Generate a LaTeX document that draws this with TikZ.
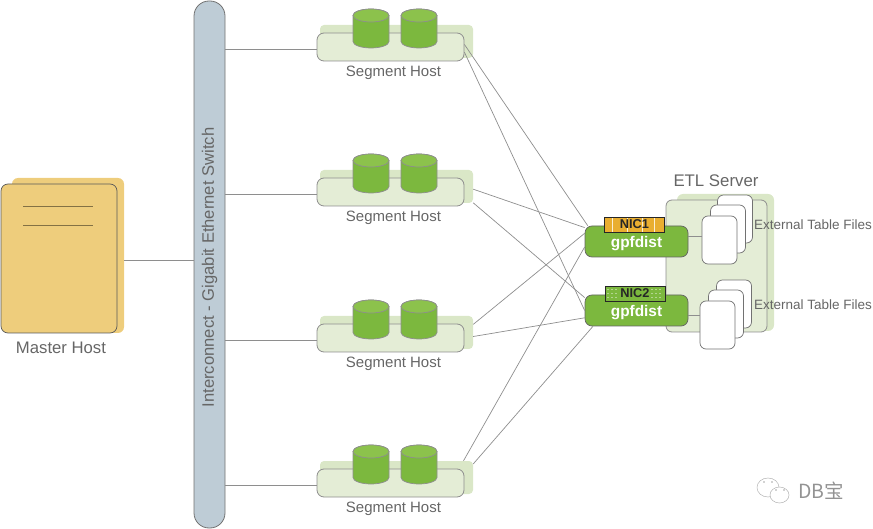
\documentclass[tikz,border=0pt]{standalone}
\usepackage{fontspec}
\setmainfont{Liberation Sans}
\newfontfamily\cjkfont{Noto Sans CJK SC}
\usetikzlibrary{shapes.geometric,positioning}
\definecolor{linegray}{HTML}{8E8E8E}
\definecolor{textgray}{HTML}{666666}
\definecolor{hostgreen}{HTML}{E4EDD6}
\definecolor{shadegreen}{HTML}{DAE7C7}
\definecolor{diskgreen}{HTML}{7CB83E}
\definecolor{disktop}{HTML}{8CC24C}
\definecolor{mastertan}{HTML}{EECD7C}
\definecolor{switchblue}{HTML}{BECCD6}
\definecolor{nicorange}{HTML}{E9AE30}
\tikzset{
    link/.style={draw=linegray, line width=0.7pt},
    hostback/.style={fill=shadegreen, rounded corners=4pt, minimum width=153, minimum height=33},
    hostfront/.style={fill=hostgreen, draw=linegray, line width=0.8pt, rounded corners=7pt, minimum width=147, minimum height=28},
    diskshape/.pic={
        \draw[draw=linegray, line width=0.7pt, fill=diskgreen] (-18,-13) -- (-18,13) arc[start angle=180, end angle=360, x radius=18pt, y radius=6.5pt] -- (18,-13) arc[start angle=0, end angle=180, x radius=18pt, y radius=6.5pt] -- cycle;
        \draw[draw=linegray, line width=0.7pt, fill=disktop] (0,-13) ellipse[x radius=18pt, y radius=6.5pt];
    },
    caption/.style={text=textgray, font=\fontsize{15}{17}\selectfont, inner sep=0pt},
    sheet/.style={fill=white, draw=linegray!80!black, line width=0.7pt, rounded corners=6pt, minimum width=35, minimum height=48},
    gpf/.style={fill=diskgreen, draw=linegray!70!black, line width=0.7pt, rounded corners=7pt, minimum width=103, minimum height=31, text=white, font=\bfseries\fontsize{15.4}{17}\selectfont},
    nic/.style={draw=black!85, line width=0.9pt, minimum width=60, minimum height=15, inner sep=0pt, font=\bfseries\fontsize{12.8}{14}\selectfont, text=black!85}
}
\begin{document}
\begin{tikzpicture}[x=1pt,y=-1pt]
    \useasboundingbox (0,0) rectangle (873,529);

    % Interconnect
    \node[draw=linegray!80!black, fill=switchblue, line width=0.8pt, rotate=90, rounded corners=15pt, minimum width=527, minimum height=31, inner sep=0pt, text=textgray, font=\fontsize{16.6}{18}\selectfont] (switch) at (209.5,264.5) {Interconnect - Gigabit Ethernet Switch\hspace*{6pt}};

    % Master
    \node[fill=mastertan, rounded corners=6pt, minimum width=112, minimum height=155] (masterback) at (68,255.5) {};
    \node[fill=mastertan, draw=black!65, line width=0.7pt, rounded corners=7pt, minimum width=116, minimum height=149] (master) at (59,258.5) {};
    \coordinate (lineAl) at (23,206);
    \coordinate (lineAr) at (93,206);
    \coordinate (lineBl) at (23,225);
    \coordinate (lineBr) at (93,225);
    \draw[draw=black!45!mastertan, line width=0.8pt] (lineAl) -- (lineAr);
    \draw[draw=black!45!mastertan, line width=0.8pt] (lineBl) -- (lineBr);
    \node[caption, font=\fontsize{16.7}{18}\selectfont, below=8pt of master, xshift=2pt] (masterlabel) {Master Host};
    \draw[link] (masterback.-5) -- (masterback.-5 -| switch.north);

    % Segment hosts
    \foreach \i/\y in {1/0, 2/145, 3/291, 4/436} {
        \node[hostback] (hostback\i) at (396.5,41.5+\y) {};
        \node[hostfront] (host\i) at (390.5,47+\y) {};
        \pic at (371,28.5+\y) {diskshape};
        \pic at (419,28.5+\y) {diskshape};
        \node[caption, below=4pt of host\i, xshift=3pt] (hostlabel\i) {Segment Host};
        \draw[link] (host\i.182) -- (host\i.182 -| switch.south);
    }

    % ETL server
    \node[fill=shadegreen, rounded corners=6pt, minimum width=97, minimum height=137] (etlback) at (725.5,262.5) {};
    \node[fill=hostgreen, draw=linegray, line width=0.8pt, rounded corners=6pt, minimum width=101, minimum height=132] (etl) at (716.5,266) {};
    \node[text=textgray, font=\fontsize{16.8}{18}\selectfont, inner sep=0pt] (etllabel) at (716,181) {ETL Server};

    % gpfdist
    \node[gpf] (gpfA) at (636.5,241.5) {\smash{\raisebox{-6pt}{gpfdist}}};
    \node[gpf] (gpfB) at (636.5,310.5) {\smash{\raisebox{-6pt}{gpfdist}}};
    \node[nic, fill=nicorange, path picture={
        \foreach \k in {-22,-7,8,20}
            \draw[white!80!nicorange, line width=0.5pt] ([xshift=\k pt]path picture bounding box.north) -- ([xshift=\k pt]path picture bounding box.south);
    }] (nicA) at (634.5,224.5) {NIC1};
    \node[nic, fill=diskgreen, path picture={
        \foreach \k in {-27,-23,-19,17,21,25}
            \foreach \j in {-4,0,4}
                \fill[white!85!diskgreen] ([xshift=\k pt,yshift=\j pt]path picture bounding box.center) circle (0.6pt);
    }] (nicB) at (635,293.5) {NIC2};

    % External table files
    \foreach \i/\xa/\ya/\xb/\yb/\xc/\yc/\ang in {A/735/219/728/229/719.5/240/6, B/734/304/726/314/717.5/325/-5} {
        \node[sheet] (sheet\i a) at (\xa,\ya) {};
        \node[sheet] (sheet\i b) at (\xb,\yb) {};
        \node[sheet] (sheet\i c) at (\xc,\yc) {};
        \draw[link] (gpf\i.\ang) -- (gpf\i.\ang -| sheet\i c.west);
    }
    \node[caption, font=\fontsize{13.5}{15}\selectfont, anchor=west] (filesA) at (754,224.5) {External Table Files};
    \node[caption, font=\fontsize{13.5}{15}\selectfont, anchor=west] (filesB) at (754,305) {External Table Files};

    % Links to gpfdist
    \foreach \from/\to in {host1.2/gpfA.162, host1.-4/gpfB.180,
        hostback2.-2/gpfA.165, hostback2.-12/gpfB.166,
        hostback3.6/gpfA.171, hostback3.-3/gpfB.188,
        hostback4.14/gpfA.186, hostback4.10/gpfB.200} {
        \draw[link] (\from) -- (\to);
    }

    % Logo
    \node[draw=gray!60, line width=0.5pt, ellipse, minimum width=22, minimum height=19, inner sep=0pt] (bubbleA) at (768,487.5) {};
    \node[draw=gray!60, fill=white, line width=0.5pt, ellipse, minimum width=19, minimum height=16, inner sep=0pt] (bubbleB) at (779.5,495) {};
    \fill[gray!70] (764,482) circle (0.8pt) (772,482) circle (0.8pt) (776,490) circle (0.8pt) (784,490) circle (0.8pt);
    \node[text=gray!85, font=\cjkfont\fontsize{19.5}{21}\selectfont, inner sep=0pt, anchor=west] (logotext) at (798,491) {DB宝};
\end{tikzpicture}
\end{document}
